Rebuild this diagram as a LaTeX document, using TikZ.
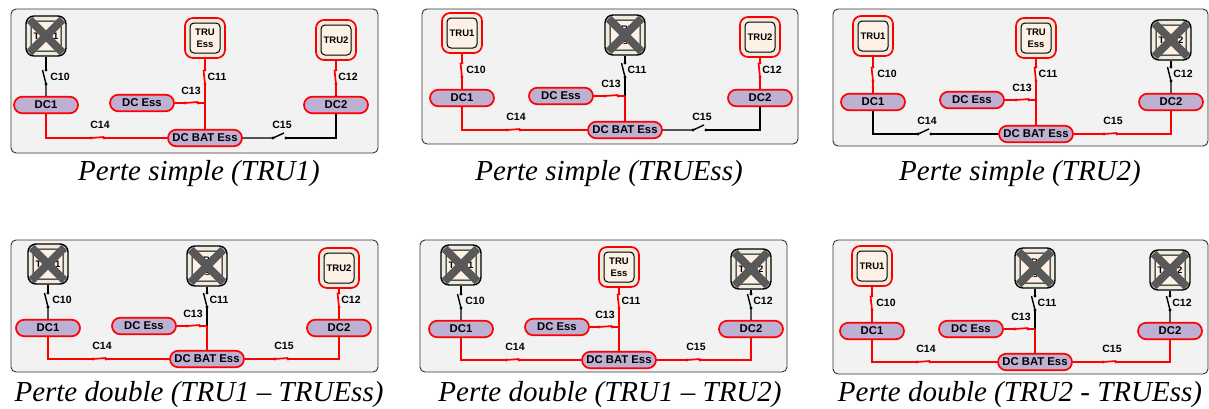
\documentclass[tikz,border=0pt]{standalone}
\usepackage{fontspec}
\setmainfont{Liberation Serif}
\setsansfont{Liberation Sans}
\usetikzlibrary{shapes.misc}
\definecolor{panelgrey}{HTML}{F2F2F2}
\definecolor{busfill}{HTML}{BDB0D2}
\definecolor{truback}{HTML}{ECECDF}
\definecolor{trufill}{HTML}{FDF0E5}
\definecolor{lostgrey}{HTML}{595959}
\begin{document}
\begin{tikzpicture}
		[
			x=1pt, y=-1pt,
			live/.style={color=red, line width=1.7pt},
			dead/.style={color=black, line width=1.4pt},
			lever live v/.style={to path={-- ([xshift=-1.5pt]\tikztotarget)}},
			lever dead v/.style={to path={-- ([xshift=-3.5pt]\tikztotarget)}},
			lever live h/.style={to path={-- ([yshift=1pt]\tikztotarget)}},
			lever dead h/.style={to path={-- ([xshift=-2pt, yshift=5pt]\tikztotarget)}},
			panel/.style={draw=black!80, fill=panelgrey, line width=0.9pt, rounded corners=5pt},
			bus/.style={rounded rectangle, draw=red, line width=1.7pt, fill=busfill, inner sep=0pt, minimum height=16.5pt, font=\sffamily\bfseries\fontsize{11.3}{12}\selectfont},
			truout/.style={draw, fill=truback, rounded corners=8pt, minimum size=40pt, inner sep=0pt},
			truin/.style={draw=black, fill=trufill, rounded corners=4pt, line width=1pt, minimum size=30pt, inner sep=0pt, align=center, text=black, font=\sffamily\bfseries\fontsize{9.5}{12}\selectfont},
			lostmark/.style={cross out, draw=lostgrey, line width=8pt, minimum size=25pt, inner sep=0pt},
			contact/.style={circle, fill, inner sep=0pt, minimum size=3.2pt},
			swlabel/.style={inner sep=0pt, font=\sffamily\bfseries\fontsize{10.5}{12}\selectfont},
			caption/.style={inner sep=0pt, font=\itshape\fontsize{29}{30}\selectfont},
		]

		\useasboundingbox (0,0) rectangle (1209,408);

		% Panels
		\foreach \p/\xa/\ya/\xb/\yb/\xl/\xm/\xr/\xe/\yt/\yd/\yz/\lost/\swa/\swm/\swr/\swl/\swq/\cx/\cy/\capt in
		{
			1/11/9/378/153/46/205/336/142/36/105/138/{a}/dead/live/live/live/dead/199/174/{Perte simple (TRU1)},
			2/422/9/798/144/462/625/760/561/33/98/130/{m}/live/dead/live/live/dead/609/174/{Perte simple (TRUEss)},
			3/833/9/1208/146/873/1036/1171/972/36/102/134/{r}/live/live/dead/dead/live/1020/174/{Perte simple (TRU2)},
			4/11/240/378/372/48/207/339/144/264/328/359/{a,m}/dead/dead/live/live/live/199/395/{Perte double (TRU1 – TRUEss)},
			5/420/240/787/372/461/619/751/557/265/329/360/{a,r}/dead/live/dead/live/live/610/395/{Perte double (TRU1 – TRU2)},
			6/833/240/1208/374/872/1035/1170/971/266/331/362/{m,r}/live/dead/dead/live/live/1020/395/{Perte double (TRU2 - TRUEss)}
		}
		{
			\draw[panel] (\xa,\ya) rectangle (\xb,\yb);
			\node[caption] (cap\p) at (\cx,\cy) {\capt};

			% Busbars
			\node[bus, minimum width=64pt] (dc\p a) at (\xl,\yd) {DC1};
			\node[bus, minimum width=64pt] (dc\p r) at (\xr,\yd) {DC2};
			\node[bus, minimum width=64pt] (ess\p) at (\xe,\yd-2) {DC Ess};
			\node[bus, minimum width=74pt] (bat\p) at (\xm,\yz) {DC BAT Ess};
			\coordinate (dc\p m) at (\xm,\yd-2);

			% Rectifiers and their breakers
			\foreach \q/\x/\dy/\st/\name/\lab/\off in
			{
				a/\xl/0/\swa/TRU1/C10/14,
				m/\xm/2/\swm/{TRU\\Ess}/C11/12,
				r/\xr/4/\swr/TRU2/C12/12
			}
			{
				\node[\st, truout] (tru\p\q) at (\x,\yt+\dy) {};
				\node[truin] (in\p\q) at (tru\p\q) {\name};
				\node[contact, \st] (top\p\q) at (\x,\yd-35) {};
				\node[contact, \st] (bot\p\q) at (\x,\yd-21) {};
				\node[swlabel] (lab\p\q) at (\x+\off,\yd-28) {\lab};
				\draw[\st] (tru\p\q.south) -- (top\p\q.center);
				\draw[\st, lever \st\space v] (bot\p\q.center) to (top\p\q.center);
				\draw[\st] (bot\p\q.center) -- (dc\p\q);
			}

			% Lost rectifiers
			\foreach \q in \lost
				\node[lostmark] (lost\p\q) at (tru\p\q) {};

			% Bus breakers
			\foreach \q/\x/\y/\st/\lab/\off/\up in
			{
				l/\xl+45/\yz/\swl/C14/9/13,
				q/\xm+68/\yz/\swq/C15/9/13,
				e/\xm-20/\yd-2/live/C13/6/12
			}
			{
				\node[contact, \st] (lft\p\q) at (\x,\y) {};
				\node[contact, \st] (rgt\p\q) at (\x+13,\y) {};
				\node[swlabel] (lab\p\q) at (\x+\off,\y-\up) {\lab};
				\draw[\st, lever \st\space h] (lft\p\q.center) to (rgt\p\q.center);
			}

			% Feeders
			\draw[\swl] (dc\p a.south) |- (lft\p l.center);
			\draw[\swl] (rgt\p l.center) -- (bat\p);
			\draw[\swq] (bat\p) -- (lft\p q.center);
			\draw[\swq] (rgt\p q.center) -| (dc\p r.south);
			\draw[live] (ess\p) -- (lft\p e.center);
			\draw[live] (rgt\p e.center) -- (dc\p m);
			\draw[live] (dc\p m) -- (bat\p);
		}

		\end{tikzpicture}
\end{document}
